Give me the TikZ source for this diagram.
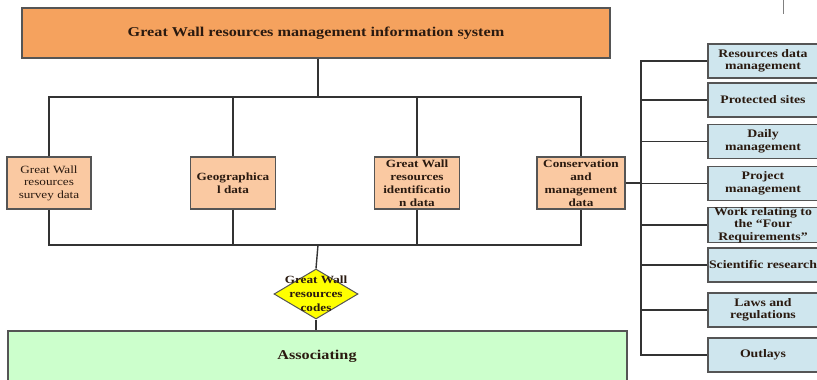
\documentclass[tikz,border=0pt]{standalone}
\usepackage{fontspec}
\setmainfont{Liberation Serif}[FakeStretch=1.2]
\usetikzlibrary{shapes.geometric}
\definecolor{orangeT}{HTML}{F5A25E}
\definecolor{peach}{HTML}{FAC9A2}
\definecolor{greenA}{HTML}{CCFFCC}
\definecolor{blueR}{HTML}{CFE6EE}
\definecolor{lineC}{HTML}{333333}
\definecolor{bordC}{HTML}{555555}
\definecolor{txtC}{HTML}{2A1A10}
\definecolor{yel}{HTML}{FFFF00}
\begin{document}
\begin{tikzpicture}[x=1pt,y=-1pt,
  conn/.style={draw=lineC,line width=1.4pt},
  topbox/.style={draw=bordC,line width=1.3pt,fill=orangeT,minimum width=588pt,minimum height=50pt,inner sep=0pt,font=\fontsize{13.5}{15}\selectfont\bfseries,text=txtC},
  midbox/.style={draw=bordC,line width=1.3pt,fill=peach,minimum height=52pt,inner sep=0pt,align=center,font=\fontsize{11}{13}\selectfont\bfseries,text=txtC},
  rbox/.style={draw=bordC,line width=1.3pt,fill=blueR,minimum width=110pt,minimum height=34pt,inner sep=0pt,align=center,font=\fontsize{11.5}{12.5}\selectfont\bfseries,text=txtC},
  diam/.style={diamond,draw=bordC,line width=1pt,fill=yel,minimum width=84pt,minimum height=50pt,inner sep=0pt},
  gbox/.style={draw=bordC,line width=1.3pt,fill=greenA,minimum width=619pt,minimum height=52pt,inner sep=0pt}
]
\useasboundingbox (0,0) rectangle (817,380);
\clip (0,0) rectangle (817,380);
\fill[white] (0,0) rectangle (817,380);

% top
\node[topbox] (top) at (316,33) {Great Wall resources management information system};
\coordinate (busT) at (318,97);
\coordinate (busB) at (318,245);
\coordinate (busX) at (641,0);

% middle boxes
\node[midbox,minimum width=84pt,font=\fontsize{11}{12.5}\selectfont] (b1) at (49,183) {Great Wall\\resources\\survey data};
\node[midbox,minimum width=85pt] (b2) at (233,183) {Geographica\\l data};
\node[midbox,minimum width=85pt] (b3) at (417,183) {Great Wall\\resources\\identificatio\\n data};
\node[midbox,minimum width=88pt] (b4) at (581,183) {Conservation\\and\\management\\data};

% diamond
\node[diam] (dm) at (316,294) {};
\node[align=center,inner sep=0pt,font=\fontsize{11}{14}\selectfont\bfseries,text=txtC] (dmt) at (dm.center) {Great Wall\\resources\\codes};

% green
\node[gbox] (gr) at (317.5,357) {};
\node[font=\fontsize{13.5}{15}\selectfont\bfseries,text=txtC] (grt) at (317,356) {Associating};

% right boxes
\node[rbox] (r1) at (763,61) {Resources data\\management};
\node[rbox] (r2) at (763,100) {Protected sites};
\node[rbox] (r3) at (763,141.5) {Daily\\management};
\node[rbox] (r4) at (763,183.5) {Project\\management};
\node[rbox] (r5) at (763,225) {Work relating to\\the “Four\\Requirements”};
\node[rbox] (r6) at (763,265) {Scientific research};
\node[rbox] (r7) at (763,310) {Laws and\\regulations};
\node[rbox] (r8) at (763,355) {Outlays};

% connectors
\draw[conn] (top.south -| busT) -- (busT);
\draw[conn] (b1.north) |- (busT) -| (b4.north);
\draw[conn] (b2.north) -- (b2.north |- busT);
\draw[conn] (b3.north) -- (b3.north |- busT);
\draw[conn] (b1.south) |- (busB) -| (b4.south);
\draw[conn] (b2.south) -- (b2.south |- busB);
\draw[conn] (b3.south) -- (b3.south |- busB);
\draw[conn] (busB) -- (dm.north);
\draw[conn] (dm.south) -- (gr.north -| dm.south);
\draw[conn] (b4.east) -- (b4.east -| busX);
\draw[conn] (r1.west) -- (r1.west -| busX) -- (r8.west -| busX) -- (r8.west);
\foreach \r in {r2,r3,r4,r5,r6,r7} \draw[conn] (\r.west) -- (\r.west -| busX);

% tick at top right
\coordinate (tickA) at (783,0);
\coordinate (tickB) at (783,14);
\draw[gray,line width=0.8pt] (tickA) -- (tickB);
\end{tikzpicture}
\end{document}
